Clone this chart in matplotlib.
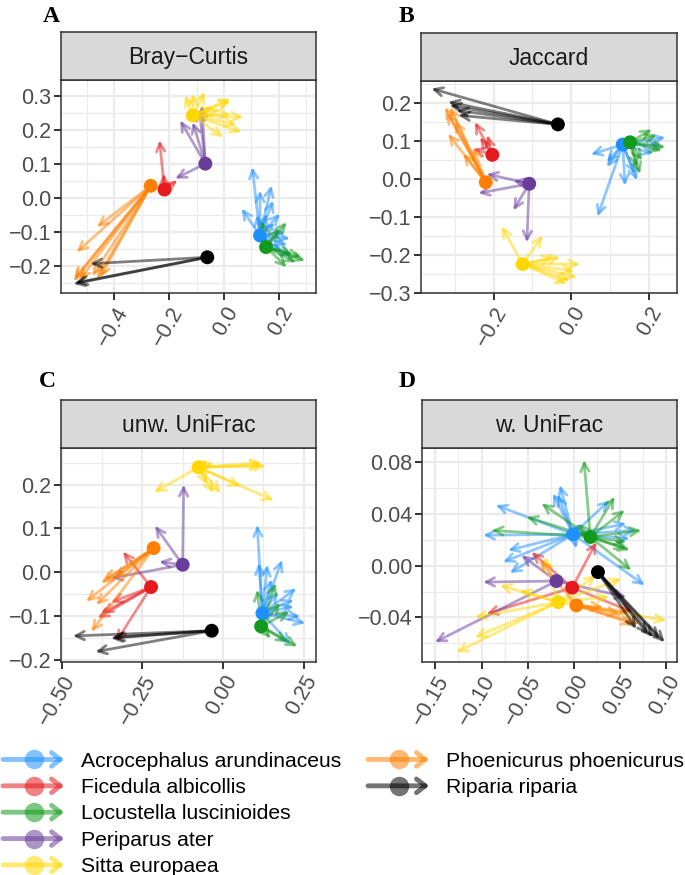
import numpy as np
import matplotlib
matplotlib.use("Agg")
import matplotlib.pyplot as plt
from matplotlib.patches import FancyArrowPatch
from matplotlib.lines import Line2D
from matplotlib.legend_handler import HandlerBase
from matplotlib.ticker import FuncFormatter

plt.rcParams['font.family'] = ['Liberation Sans', 'DejaVu Sans']

# species and colours
species = ["Acrocephalus arundinaceus", "Ficedula albicollis", "Locustella luscinioides",
           "Periparus ater", "Sitta europaea", "Phoenicurus phoenicurus", "Riparia riparia"]
colors = ["#1E90FF", "#E41A1C", "#119A1B", "#6A3D9A", "#FFD700", "#FF8000", "#000000"]

# --- A: Bray-Curtis (centroid, sample positions) ---
bray_cent = [(0.131, -0.111), (-0.217, 0.024), (0.153, -0.145), (-0.068, 0.100),
             (-0.114, 0.242), (-0.267, 0.035), (-0.061, -0.175)]
bray_ends = [
    [(0.103, 0.090), (0.173, 0.036), (0.179, -0.008), (0.064, -0.032), (0.131, 0.021), (0.204, -0.047),
     (0.240, -0.120), (0.246, -0.175), (0.155, -0.047), (0.120, -0.050), (0.220, -0.100), (0.210, -0.160),
     (0.185, -0.075), (0.230, -0.140)],
    [(-0.235, 0.169), (-0.220, 0.071), (-0.170, 0.051), (-0.190, 0.045)],
    [(0.228, -0.072), (0.295, -0.185), (0.228, -0.204), (0.280, -0.175), (0.250, -0.165), (0.200, -0.090),
     (0.137, -0.067), (0.260, -0.190)],
    [(-0.178, 0.056), (-0.160, 0.227), (-0.114, 0.222), (-0.081, 0.271), (-0.090, 0.260)],
    [(-0.112, 0.306), (-0.069, 0.311), (0.022, 0.291), (0.024, 0.285), (0.070, 0.237), (0.064, 0.193),
     (-0.003, 0.178), (-0.039, 0.266), (-0.015, 0.258), (-0.142, 0.301), (0.025, 0.245), (0.045, 0.215)],
    [(-0.463, -0.086), (-0.537, -0.160), (-0.545, -0.238), (-0.526, -0.241), (-0.463, -0.238),
     (-0.451, -0.233), (-0.548, -0.245), (-0.480, -0.230)],
    [(-0.487, -0.194), (-0.548, -0.253), (-0.540, -0.250)],
]

# --- B: Jaccard ---
jac_cent = [(0.133, 0.090), (-0.203, 0.063), (0.152, 0.096), (-0.108, -0.013),
            (-0.125, -0.224), (-0.220, -0.009), (-0.034, 0.143)]
jac_ends = [
    [(0.051, 0.064), (0.068, -0.099), (0.092, 0.031), (0.139, -0.018), (0.170, -0.004), (0.243, 0.109),
     (0.212, 0.066), (0.092, 0.044), (0.165, 0.012), (0.232, 0.088)],
    [(-0.248, 0.149), (-0.235, 0.109), (-0.253, 0.079), (-0.216, 0.115)],
    [(0.208, 0.130), (0.243, 0.083), (0.178, 0.013), (0.183, 0.048), (0.234, 0.074), (0.221, 0.114),
     (0.170, 0.030)],
    [(-0.218, 0.013), (-0.239, -0.038), (-0.149, -0.005), (-0.149, -0.083), (-0.114, -0.167)],
    [(-0.179, -0.125), (-0.073, -0.149), (-0.046, -0.206), (0.023, -0.224), (0.015, -0.259),
     (-0.011, -0.276), (0.008, -0.242), (-0.028, -0.206), (-0.003, -0.268)],
    [(-0.325, 0.188), (-0.317, 0.118), (-0.278, 0.066), (-0.312, 0.188), (-0.320, 0.174),
     (-0.252, 0.083), (-0.299, 0.153)],
    [(-0.360, 0.237), (-0.317, 0.202), (-0.313, 0.193), (-0.291, 0.167), (-0.295, 0.180)],
]

# --- C: unweighted UniFrac ---
unw_cent = [(0.122, -0.094), (-0.223, -0.034), (0.118, -0.124), (-0.125, 0.017),
            (-0.076, 0.240), (-0.215, 0.055), (-0.035, -0.134)]
unw_ends = [
    [(0.106, 0.108), (0.111, 0.021), (0.137, 0.017), (0.183, 0.028), (0.227, -0.037), (0.219, -0.063),
     (0.255, -0.117), (0.209, -0.166), (0.219, -0.078), (0.239, -0.101), (0.171, -0.045), (0.150, -0.016)],
    [(-0.310, 0.047), (-0.388, -0.105), (-0.347, -0.069), (-0.331, -0.159), (-0.376, -0.094)],
    [(0.163, -0.025), (0.106, -0.040), (0.230, -0.170), (0.200, -0.160), (0.206, -0.090), (0.147, -0.152),
     (0.177, -0.070)],
    [(-0.122, 0.200), (-0.211, 0.106), (-0.198, 0.024), (-0.347, -0.014)],
    [(-0.213, 0.183), (-0.048, 0.257), (0.132, 0.243), (0.120, 0.250), (0.157, 0.164), (0.055, 0.196),
     (-0.007, 0.181), (-0.030, 0.181), (-0.050, 0.200), (-0.030, 0.250), (0.118, 0.244)],
    [(-0.424, -0.067), (-0.393, -0.075), (-0.367, -0.018), (-0.408, -0.136), (-0.336, -0.014),
     (-0.377, -0.025)],
    [(-0.465, -0.146), (-0.347, -0.151), (-0.341, -0.149), (-0.395, -0.182)],
]

# --- D: weighted UniFrac ---
w_cent = [(-0.001, 0.0242), (-0.002, -0.017), (0.0177, 0.0221), (-0.019, -0.0119),
          (-0.0173, -0.0282), (0.0026, -0.0307), (0.0259, -0.005)]
w_ends = [
    [(-0.0846, 0.0467), (-0.0983, 0.0235), (-0.0713, 0.0118), (-0.0767, 0.0028), (-0.0694, -0.0057),
     (-0.0154, 0.0621), (-0.0227, 0.0557), (-0.0175, 0.0549), (0.0386, 0.0505), (0.0566, 0.0325),
     (0.0674, 0.0273), (0.0602, 0.0208), (0.0764, -0.0152), (0.0026, 0.0132), (0.0062, 0.0325)],
    [(0.0242, 0.0183), (-0.046, 0.0105), (-0.0946, -0.0372), (0.0637, -0.0359)],
    [(0.0108, 0.0815), (-0.0352, 0.048), (-0.0514, 0.0376), (-0.0892, 0.0273), (0.044, 0.0531),
     (0.0548, 0.0428), (0.0728, 0.0273), (0.062, -0.0036), (0.0566, 0.0132), (0.0566, 0.0183),
     (0.0043, 0.0325), (0.0602, 0.012)],
    [(-0.1504, -0.0591), (-0.0983, -0.0127), (-0.0568, 0.008), (0.0566, -0.0243)],
    [(-0.127, -0.0669), (-0.1072, -0.0553), (-0.1072, -0.0398), (-0.0802, -0.0152), (-0.0586, -0.0191),
     (-0.0316, 0.0067), (0.0242, -0.0075), (0.0512, -0.0101), (0.0998, -0.0423), (0.038, -0.024)],
    [(-0.037, 0.0041), (0.0637, -0.0449), (0.0709, -0.0449), (0.0602, -0.0359), (0.0314, -0.032),
     (0.0026, -0.0372), (0.0494, -0.0372)],
    [(0.098, -0.0591), (0.0926, -0.0565), (0.0853, -0.0553), (0.0674, -0.0488), (0.080, -0.053)],
]

panels = [
    ("A", "Bray\u2212Curtis", bray_cent, bray_ends, [-0.4, -0.2, 0.0, 0.2], [-0.2, -0.1, 0.0, 0.1, 0.2, 0.3],
     1, 1, (-0.594, 0.335), (-0.28, 0.346)),
    ("B", "Jaccard", jac_cent, jac_ends, [-0.2, 0.0, 0.2], [-0.3, -0.2, -0.1, 0.0, 0.1, 0.2],
     1, 1, (-0.387, 0.273), (-0.3, 0.257)),
    ("C", "unw. UniFrac", unw_cent, unw_ends, [-0.5, -0.25, 0.0, 0.25], [-0.2, -0.1, 0.0, 0.1, 0.2],
     2, 1, (-0.502, 0.288), (-0.2055, 0.284)),
    ("D", "w. UniFrac", w_cent, w_ends, [-0.15, -0.10, -0.05, 0.0, 0.05, 0.10], [-0.04, 0.0, 0.04, 0.08],
     2, 2, (-0.1644, 0.1114), (-0.0744, 0.0908)),
]

W, H = 685, 875
# plot boxes in pixels: left, top, right, bottom
boxes = [(61, 80, 316, 293), (421, 81, 677, 293), (61, 448, 316, 662), (422, 448, 677, 662)]
strip_h = 48
letter_pos = [(43, 16), (399, 16), (39, 381), (399, 381)]

fig = plt.figure(figsize=(W / 100, H / 100), dpi=100)


def fmt(dec):
    def f(v, pos):
        if abs(v) < 1e-9:
            v = 0.0
        return f"{v:.{dec}f}".replace("-", "\u2212")
    return FuncFormatter(f)


def midpoints(t, lim):
    step = t[1] - t[0]
    m = np.arange(t[0] - step / 2, t[-1] + step, step)
    return m[(m > lim[0]) & (m < lim[1])]


for (letter, title, cent, ends, xt, yt, xdec, ydec, xl, yl), (l, t, r, b), lp in zip(panels, boxes, letter_pos):
    ax = fig.add_axes([l / W, 1 - b / H, (r - l) / W, (b - t) / H])
    for i, c in enumerate(colors):
        x0, y0 = cent[i]
        for (x1, y1) in ends[i]:
            ax.annotate("", xy=(x1, y1), xytext=(x0, y0),
                        arrowprops=dict(arrowstyle="->,head_length=0.6,head_width=0.3",
                                        color=c, lw=2.0, alpha=0.5, shrinkA=0, shrinkB=0))
    for i, c in enumerate(colors):
        ax.scatter([cent[i][0]], [cent[i][1]], s=100, color=c, edgecolors='none', zorder=4)
    ax.set_xlim(xl)
    ax.set_ylim(yl)
    ax.set_xticks(xt)
    ax.set_yticks(yt)
    ax.set_xticks(midpoints(xt, xl), minor=True)
    ax.set_yticks(midpoints(yt, yl), minor=True)
    ax.xaxis.set_major_formatter(fmt(xdec))
    ax.yaxis.set_major_formatter(fmt(ydec))
    ax.grid(which='major', color='#EBEBEB', lw=1.6)
    ax.grid(which='minor', color='#EBEBEB', lw=0.9)
    ax.set_axisbelow(True)
    ax.tick_params(which='major', length=5, width=1.4, color='#333333', labelcolor='#4D4D4D',
                   labelsize=15.5, pad=2)
    ax.tick_params(which='minor', length=0)
    plt.setp(ax.get_xticklabels(), rotation=60, ha='right', va='top', rotation_mode='anchor')
    for s in ax.spines.values():
        s.set_color('#333333')
        s.set_linewidth(1.1)

    sax = fig.add_axes([l / W, 1 - t / H, (r - l) / W, strip_h / H])
    sax.set_facecolor('#D9D9D9')
    sax.set_xticks([])
    sax.set_yticks([])
    for s in sax.spines.values():
        s.set_color('#333333')
        s.set_linewidth(1.1)
    sax.text(0.5, 0.47, title, ha='center', va='center', fontsize=16.5, color='#1A1A1A',
             transform=sax.transAxes)

    fig.text(lp[0] / W, 1 - lp[1] / H, letter, ha='left', va='center', fontsize=17,
             fontweight='bold', family=['Liberation Serif', 'DejaVu Serif'])


class ArrowDot(HandlerBase):
    def create_artists(self, legend, orig_handle, xdescent, ydescent, width, height, fontsize, trans):
        c = orig_handle.get_color()
        y = height / 2 - ydescent
        arr = FancyArrowPatch((-xdescent, y), (width - xdescent, y),
                              arrowstyle="->,head_length=0.45,head_width=0.35", mutation_scale=14,
                              lw=3.5, color=c, alpha=0.55, transform=trans, shrinkA=0, shrinkB=0)
        dot = Line2D([width / 2 - xdescent], [y], marker='o', markersize=14, color=c, alpha=0.55,
                     linestyle='none', markeredgewidth=0, transform=trans)
        return [arr, dot]


handles = [Line2D([], [], color=c, label=s) for s, c in zip(species, colors)]
leg_kw = dict(frameon=False, fontsize=15.2, handlelength=2.9, handleheight=1.0, handletextpad=0.8,
              labelspacing=0.27, borderpad=0, borderaxespad=0,
              handler_map={h: ArrowDot() for h in handles})
leg1 = fig.legend(handles=handles[:5], loc='upper left', bbox_to_anchor=(3 / W, 1 - 750 / H), **leg_kw)
leg2 = fig.legend(handles=handles[5:], loc='upper left', bbox_to_anchor=(368 / W, 1 - 750 / H), **leg_kw)

fig.savefig("out.png", dpi=100)
